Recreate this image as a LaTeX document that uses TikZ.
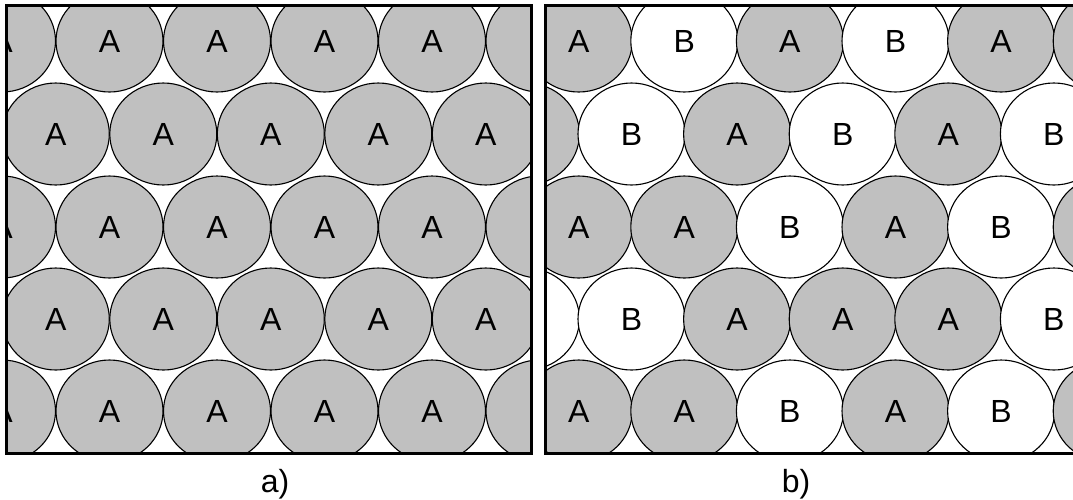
\documentclass[tikz,border=0pt]{standalone}
\usepackage{fontspec}
\setmainfont{Liberation Sans}
\usetikzlibrary{shapes.geometric}
\definecolor{colA}{RGB}{192,192,192}
\definecolor{colB}{RGB}{255,255,255}
\tikzset{
  atom/.style={ellipse, draw, line width=1.1pt, fill=col#1,
    minimum width=107pt, minimum height=102pt, inner sep=0pt,
    font=\fontsize{32}{36}\selectfont},
  frame/.style={line width=3pt, line join=miter},
  caption/.style={anchor=base, font=\fontsize{32}{36}\selectfont}
}
\begin{document}
\begin{tikzpicture}[x=1pt, y=-1pt]
      \useasboundingbox (0,0) rectangle (1073,499);
      \coordinate (P1) at (6,5.5);
      \coordinate (Q1) at (531.7,453.3);
      \coordinate (P2) at (545.3,5.5);
      \coordinate (Q2) at (1080,453.3);

      \begin{scope}
        \clip (P1) rectangle (Q1);
        \foreach \r/\y in {1/41,3/227,5/411}
          \foreach \c in {0,...,5}
            \node[atom=A] (a\r\c) at (2+107.5*\c,\y) {\ifnum\c<5 A\fi};
        \foreach \r/\y in {2/134,4/319}
          \foreach \c in {0,...,4}
            \node[atom=A] (a\r\c) at (55.8+107.5*\c,\y) {A};
      \end{scope}

      \begin{scope}
        \clip (P2) rectangle (Q2);
        \foreach \r/\y/\xs/\row in {1/41/578.7/{A,B,A,B,A,A},
                                    2/134/525.9/{A,B,A,B,A,B},
                                    3/227/578.7/{A,A,B,A,B,A},
                                    4/319/525.9/{B,B,A,A,A,B},
                                    5/411/578.7/{A,A,B,A,B,A}}
          \foreach \t [count=\c from 0] in \row
            \node[atom=\t] (b\r\c) at (\xs+105.6*\c,\y) {\t};
      \end{scope}

      \draw[frame] (P1) rectangle (Q1);
      \draw[frame] (P2) rectangle (Q2);

      \node[caption] (capa) at (275,492) {a)};
      \node[caption] (capb) at (796,492) {b)};
    \end{tikzpicture}
\end{document}
